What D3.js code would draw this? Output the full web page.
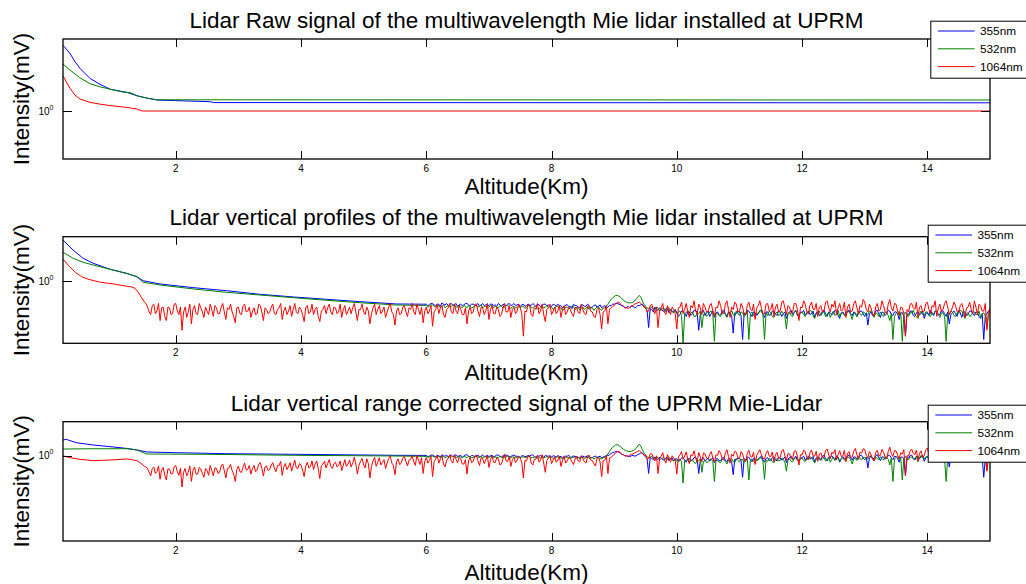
<!DOCTYPE html>
<html>
<head>
<meta charset="utf-8">
<script src="https://cdn.jsdelivr.net/npm/d3@7"></script>
<style>
  html, body { margin: 0; padding: 0; background: #fff; }
  svg { display: block; }
  text { font-family: "Liberation Sans", Arial, Helvetica, sans-serif; fill: #000; }
</style>
</head>
<body>
<svg id="chart" width="1026" height="584"></svg>
<script>
// ---------------------------------------------------------------
// Labels
// ---------------------------------------------------------------
const panelTitles = [
  "Lidar Raw signal of the multiwavelength Mie lidar installed at UPRM",
  "Lidar vertical profiles of the multiwavelength Mie lidar installed at UPRM",
  "Lidar vertical range corrected signal of the UPRM Mie-Lidar"
];
const xAxisLabel = "Altitude(Km)";
const yAxisLabel = "Intensity(mV)";
const wavelengths = ["355nm", "532nm", "1064nm"];
const altitudeTicks = [2, 4, 6, 8, 10, 12, 14];
const intensityTicks = [1];

// ---------------------------------------------------------------
// Raw signal, [altitude km, intensity mV]
// ---------------------------------------------------------------
const raw355 = [[0.2,3.53],[0.31,3.03],[0.39,2.58],[0.47,2.27],[0.63,1.87],[0.79,1.67],[0.95,1.52],[1.22,1.43],[1.38,1.34],[1.54,1.28],[1.7,1.235],[2.0,1.22],[2.55,1.195],[2.6,1.175],[15,1.17]];
const raw532 = [[0.2,2.46],[0.31,2.2],[0.47,1.89],[0.63,1.69],[0.79,1.59],[0.95,1.52],[1.15,1.44],[1.28,1.42],[1.38,1.34],[1.54,1.28],[1.7,1.24],[15,1.235]];
const raw1064 = [[0.2,1.96],[0.31,1.55],[0.39,1.36],[0.47,1.26],[0.63,1.18],[0.79,1.14],[0.95,1.11],[1.22,1.07],[1.38,1.04],[1.46,1.0],[15,1.0]];

// Range-bin width of the far-field samples, km
const binKm = 0.025;

// ---------------------------------------------------------------
// Vertical profiles: near-field samples, then range bins
// (355/532 nm bins start at 6.0 km, 1064 nm bins at 1.5 km)
// ---------------------------------------------------------------
const prof355Near = [[0.2,2.9],[0.36,2.24],[0.52,1.81],[0.68,1.59],[0.95,1.36],[1.22,1.22],[1.38,1.12],[1.48,1.01],[1.75,0.928],[2.29,0.843],[2.81,0.78],[3.34,0.711],[3.88,0.663],[4.41,0.624],[4.94,0.587],[5.53,0.553],[5.95,0.55]];
const prof532Near = [[0.2,2.11],[0.36,1.81],[0.52,1.63],[0.68,1.52],[0.95,1.36],[1.22,1.22],[1.38,1.12],[1.48,0.97],[1.75,0.904],[2.29,0.815],[2.81,0.748],[3.34,0.698],[3.88,0.651],[4.41,0.608],[4.94,0.571],[5.53,0.538],[5.95,0.532]];
const prof1064Near = [[0.2,1.77],[0.3,1.47],[0.4,1.25],[0.5,1.12],[0.6,1.05],[0.8,0.97],[1.0,0.93],[1.2,0.88],[1.3,0.86],[1.35,0.83],[1.4,0.75],[1.45,0.66]];

const prof355Bins = [
  0.55,0.53,0.54,0.56,0.56,0.54,0.53,0.55,0.55,0.52,0.57,0.55,0.54,0.56,0.53,0.55,0.56,0.53,0.54,0.56,0.52,0.54,0.55,0.53,0.54,0.56,0.56,0.54,0.53,0.55,0.55,0.53,0.54,0.56,0.52,0.54,0.56,0.53,0.54,0.55,
  0.53,0.55,0.55,0.53,0.54,0.52,0.56,0.54,0.52,0.55,0.54,0.53,0.55,0.56,0.53,0.54,0.56,0.53,0.54,0.55,0.52,0.54,0.55,0.52,0.53,0.55,0.54,0.53,0.56,0.54,0.52,0.55,0.54,0.52,0.53,0.55,0.55,0.53,0.54,0.52,
  0.52,0.55,0.54,0.52,0.55,0.53,0.53,0.50,0.51,0.54,0.54,0.52,0.52,0.49,0.55,0.53,0.53,0.51,0.50,0.54,0.54,0.52,0.52,0.55,0.53,0.50,0.51,0.53,0.54,0.51,0.52,0.54,0.50,0.52,0.53,0.50,0.51,0.53,0.53,0.55,
  0.55,0.56,0.56,0.55,0.54,0.53,0.52,0.50,0.51,0.52,0.50,0.53,0.52,0.50,0.51,0.53,0.53,0.54,0.55,0.52,0.50,0.47,0.30,0.49,0.48,0.45,0.51,0.48,0.47,0.50,0.49,0.46,0.46,0.49,0.50,0.44,0.48,0.46,0.45,0.48,
  0.44,0.40,0.42,0.46,0.46,0.43,0.40,0.45,0.45,0.41,0.43,0.47,0.47,0.44,0.28,0.42,0.44,0.47,0.41,0.44,0.46,0.40,0.43,0.46,0.39,0.44,0.45,0.41,0.42,0.46,0.47,0.43,0.40,0.45,0.44,0.41,0.26,0.44,0.43,0.46,
  0.45,0.41,0.22,0.44,0.42,0.47,0.46,0.43,0.40,0.45,0.44,0.41,0.43,0.46,0.47,0.42,0.39,0.45,0.45,0.41,0.42,0.46,0.46,0.43,0.41,0.47,0.44,0.40,0.43,0.45,0.38,0.43,0.45,0.47,0.42,0.44,0.47,0.41,0.40,0.45,
  0.44,0.47,0.41,0.44,0.46,0.42,0.43,0.46,0.39,0.44,0.45,0.41,0.42,0.46,0.47,0.43,0.40,0.45,0.44,0.42,0.43,0.47,0.46,0.41,0.38,0.44,0.45,0.42,0.42,0.46,0.47,0.43,0.41,0.45,0.44,0.40,0.43,0.46,0.46,0.43,
  0.40,0.44,0.32,0.43,0.45,0.41,0.42,0.46,0.47,0.43,0.39,0.45,0.44,0.41,0.43,0.47,0.46,0.42,0.41,0.45,0.45,0.43,0.37,0.44,0.44,0.40,0.24,0.43,0.42,0.46,0.46,0.41,0.40,0.44,0.45,0.42,0.43,0.46,0.38,0.43,
  0.44,0.41,0.47,0.43,0.41,0.46,0.45,0.42,0.42,0.47,0.46,0.43,0.40,0.45,0.33,0.42,0.44,0.46,0.43,0.40,0.47,0.44,0.39,0.45,0.45,0.41,0.42,0.46,0.46,0.43,0.41,0.45,0.44,0.40,0.38,0.43,0.22,0.41,0.43,0.46,
  0.45
];
const prof532Bins = [
  0.53,0.51,0.52,0.54,0.54,0.52,0.51,0.53,0.53,0.50,0.52,0.54,0.50,0.52,0.53,0.51,0.52,0.54,0.54,0.51,0.51,0.53,0.52,0.50,0.53,0.52,0.50,0.53,0.52,0.50,0.51,0.53,0.53,0.51,0.52,0.54,0.50,0.52,0.52,0.51,
  0.51,0.53,0.53,0.50,0.52,0.51,0.50,0.53,0.52,0.50,0.51,0.53,0.53,0.51,0.49,0.52,0.52,0.50,0.51,0.53,0.50,0.52,0.52,0.49,0.51,0.53,0.53,0.50,0.50,0.52,0.51,0.49,0.49,0.51,0.52,0.50,0.51,0.53,0.50,0.52,
  0.51,0.48,0.49,0.52,0.52,0.50,0.50,0.47,0.48,0.51,0.51,0.49,0.50,0.52,0.52,0.48,0.49,0.51,0.47,0.50,0.51,0.48,0.50,0.52,0.48,0.50,0.50,0.47,0.49,0.51,0.51,0.48,0.47,0.50,0.50,0.52,0.55,0.59,0.62,0.65,
  0.67,0.69,0.69,0.68,0.66,0.63,0.61,0.59,0.58,0.57,0.57,0.57,0.58,0.60,0.62,0.66,0.69,0.66,0.60,0.55,0.52,0.50,0.49,0.51,0.51,0.48,0.48,0.51,0.50,0.46,0.47,0.50,0.49,0.45,0.46,0.49,0.48,0.45,0.44,0.47,
  0.43,0.45,0.46,0.41,0.20,0.43,0.44,0.47,0.41,0.44,0.45,0.40,0.40,0.44,0.43,0.46,0.30,0.42,0.44,0.40,0.42,0.45,0.46,0.42,0.21,0.44,0.43,0.41,0.40,0.45,0.45,0.42,0.39,0.44,0.44,0.47,0.42,0.40,0.46,0.43,
  0.41,0.45,0.44,0.40,0.42,0.46,0.22,0.43,0.45,0.41,0.40,0.44,0.43,0.47,0.46,0.42,0.22,0.44,0.41,0.46,0.44,0.40,0.39,0.43,0.45,0.41,0.42,0.46,0.43,0.40,0.29,0.44,0.44,0.41,0.40,0.45,0.46,0.42,0.42,0.44,
  0.45,0.42,0.40,0.44,0.43,0.47,0.46,0.41,0.38,0.43,0.44,0.46,0.41,0.44,0.45,0.40,0.42,0.45,0.39,0.43,0.46,0.41,0.43,0.47,0.40,0.43,0.44,0.41,0.41,0.46,0.45,0.42,0.37,0.44,0.43,0.40,0.46,0.43,0.41,0.45,
  0.44,0.41,0.42,0.46,0.46,0.43,0.39,0.44,0.43,0.40,0.45,0.42,0.40,0.45,0.44,0.41,0.36,0.43,0.22,0.40,0.43,0.46,0.41,0.44,0.21,0.42,0.45,0.41,0.40,0.44,0.44,0.47,0.42,0.40,0.38,0.43,0.46,0.42,0.41,0.45,
  0.45,0.41,0.40,0.44,0.43,0.46,0.46,0.42,0.39,0.44,0.44,0.40,0.21,0.43,0.42,0.46,0.45,0.41,0.40,0.44,0.43,0.47,0.46,0.42,0.38,0.43,0.44,0.40,0.41,0.45,0.45,0.42,0.42,0.46,0.39,0.43,0.44,0.41,0.30,0.42,
  0.43
];
const prof1064Bins = [
  0.58,0.56,0.51,0.45,0.42,0.53,0.55,0.43,0.46,0.56,0.36,0.50,0.51,0.40,0.36,0.51,0.50,0.42,0.43,0.55,0.56,0.46,0.42,0.51,0.28,0.45,0.51,0.39,0.45,0.55,0.33,0.48,0.53,0.43,0.42,0.56,0.50,0.45,0.39,0.51,
  0.46,0.42,0.55,0.48,0.40,0.53,0.50,0.43,0.43,0.51,0.56,0.45,0.37,0.50,0.48,0.55,0.45,0.40,0.34,0.50,0.51,0.43,0.42,0.53,0.55,0.45,0.46,0.51,0.39,0.46,0.50,0.42,0.43,0.55,0.53,0.45,0.36,0.50,0.48,0.43,
  0.45,0.51,0.55,0.43,0.42,0.48,0.50,0.56,0.37,0.46,0.51,0.42,0.46,0.53,0.40,0.48,0.56,0.45,0.43,0.51,0.48,0.42,0.35,0.50,0.53,0.43,0.45,0.55,0.42,0.48,0.51,0.40,0.35,0.46,0.48,0.53,0.43,0.50,0.55,0.45,
  0.42,0.51,0.50,0.43,0.45,0.55,0.39,0.48,0.53,0.42,0.46,0.51,0.43,0.50,0.56,0.45,0.36,0.48,0.48,0.55,0.45,0.42,0.51,0.46,0.33,0.43,0.50,0.55,0.42,0.48,0.53,0.43,0.46,0.51,0.39,0.45,0.51,0.56,0.45,0.42,
  0.32,0.46,0.50,0.42,0.43,0.51,0.53,0.45,0.40,0.50,0.48,0.56,0.45,0.42,0.55,0.48,0.42,0.51,0.34,0.46,0.51,0.43,0.46,0.53,0.31,0.45,0.48,0.55,0.43,0.50,0.53,0.42,0.39,0.48,0.50,0.56,0.45,0.43,0.55,0.46,
  0.43,0.53,0.48,0.42,0.42,0.50,0.33,0.46,0.51,0.43,0.45,0.55,0.55,0.46,0.40,0.51,0.50,0.42,0.46,0.56,0.37,0.48,0.53,0.43,0.43,0.51,0.48,0.40,0.42,0.50,0.56,0.45,0.45,0.53,0.39,0.48,0.51,0.43,0.46,0.55,
  0.50,0.43,0.24,0.46,0.45,0.55,0.53,0.42,0.40,0.50,0.48,0.56,0.43,0.46,0.55,0.42,0.35,0.48,0.50,0.55,0.42,0.46,0.51,0.43,0.46,0.53,0.39,0.48,0.53,0.42,0.45,0.51,0.48,0.43,0.40,0.50,0.51,0.45,0.43,0.55,
  0.48,0.43,0.42,0.51,0.53,0.46,0.45,0.40,0.39,0.48,0.50,0.42,0.29,0.45,0.46,0.53,0.33,0.48,0.50,0.52,0.53,0.56,0.57,0.58,0.55,0.53,0.52,0.50,0.50,0.49,0.51,0.52,0.53,0.55,0.56,0.57,0.58,0.56,0.54,0.51,
  0.51,0.45,0.46,0.53,0.55,0.48,0.43,0.51,0.30,0.46,0.50,0.56,0.45,0.42,0.53,0.48,0.42,0.51,0.48,0.43,0.29,0.50,0.51,0.58,0.43,0.48,0.56,0.45,0.39,0.53,0.50,0.60,0.46,0.42,0.55,0.50,0.42,0.56,0.51,0.45,
  0.45,0.53,0.56,0.46,0.40,0.51,0.50,0.60,0.53,0.43,0.43,0.55,0.60,0.48,0.39,0.51,0.48,0.58,0.55,0.45,0.45,0.56,0.51,0.42,0.42,0.53,0.58,0.48,0.46,0.55,0.37,0.50,0.53,0.60,0.50,0.43,0.43,0.55,0.56,0.46,
  0.48,0.56,0.40,0.51,0.55,0.45,0.46,0.58,0.60,0.50,0.42,0.53,0.51,0.43,0.45,0.56,0.56,0.48,0.36,0.51,0.50,0.60,0.55,0.45,0.43,0.53,0.58,0.48,0.48,0.56,0.40,0.51,0.53,0.45,0.46,0.58,0.60,0.50,0.45,0.55,
  0.51,0.60,0.42,0.50,0.56,0.46,0.48,0.58,0.39,0.51,0.55,0.45,0.46,0.56,0.60,0.50,0.43,0.53,0.51,0.62,0.58,0.48,0.45,0.55,0.50,0.43,0.40,0.51,0.56,0.46,0.48,0.60,0.53,0.45,0.43,0.55,0.62,0.50,0.46,0.56,
  0.55,0.46,0.42,0.51,0.50,0.43,0.24,0.48,0.45,0.55,0.56,0.50,0.48,0.58,0.39,0.51,0.53,0.45,0.46,0.56,0.58,0.48,0.43,0.53,0.51,0.60,0.40,0.50,0.55,0.45,0.48,0.56,0.60,0.51,0.42,0.46,0.50,0.58,0.53,0.45,
  0.45,0.53,0.56,0.48,0.39,0.50,0.51,0.58,0.48,0.43,0.60,0.51,0.42,0.55,0.53,0.46,0.46,0.56,0.28,0.45,0.50
];

// ---------------------------------------------------------------
// Range corrected signal: near-field samples, then range bins
// ---------------------------------------------------------------
const corr355Near = [[0.2,1.53],[0.25,1.56],[0.42,1.42],[0.68,1.34],[0.95,1.28],[1.22,1.22],[1.38,1.17],[1.54,1.108],[2.0,1.087],[2.8,1.058],[3.9,1.041],[5.5,1.013],[5.95,1.01]];
const corr532Near = [[0.2,1.2],[0.68,1.21],[1.22,1.21],[1.38,1.17],[1.54,1.049],[2.5,1.041],[3.9,1.013],[5.5,0.994],[5.95,0.985]];
const corr1064Near = [[0.2,1.0],[0.31,0.95],[0.47,0.909],[0.68,0.876],[0.95,0.892],[1.22,0.917],[1.3,0.9],[1.38,0.876],[1.46,0.8]];

const corr355Bins = [
  1.01,0.98,0.99,1.02,1.02,0.99,0.98,1.01,1.00,0.97,1.03,1.00,0.99,1.02,0.97,1.00,1.02,0.98,1.00,1.03,0.98,1.00,1.01,0.97,0.99,1.02,1.03,0.99,0.97,1.01,1.00,0.98,0.99,1.02,0.96,0.99,1.02,0.98,0.99,1.01,
  0.98,1.00,1.01,0.98,0.99,1.02,1.02,0.99,0.97,1.00,0.99,1.02,1.01,0.98,0.98,1.01,1.02,0.99,0.99,0.97,0.96,1.00,1.00,0.98,0.98,1.01,0.99,1.02,1.02,0.98,0.96,0.99,0.99,1.01,0.98,0.96,1.01,0.99,0.99,1.00,
  0.97,1.00,0.99,0.96,1.01,0.98,0.98,0.95,0.95,0.99,0.99,1.01,0.97,0.94,1.00,0.98,0.98,0.96,0.94,0.99,0.99,0.97,0.97,1.00,0.98,0.95,0.95,0.98,0.99,0.96,0.97,0.99,0.94,0.97,0.98,1.01,1.00,1.03,1.06,1.09,
  1.10,1.12,1.12,1.10,1.07,1.04,1.02,1.00,1.00,0.99,0.98,1.00,1.01,0.99,1.00,1.03,1.05,1.08,1.08,1.02,0.97,0.93,0.62,0.95,0.93,0.90,0.97,0.92,0.90,0.96,0.95,0.90,0.89,0.94,0.96,0.88,0.92,0.95,0.87,0.92,
  0.92,0.86,0.88,0.94,0.95,0.89,0.84,0.92,0.93,0.87,0.89,0.95,0.96,0.90,0.62,0.88,0.91,0.95,0.86,0.91,0.94,0.87,0.90,0.95,0.83,0.91,0.93,0.87,0.88,0.94,0.96,0.89,0.85,0.92,0.92,0.86,0.60,0.91,0.90,0.94,
  0.94,0.88,0.56,0.92,0.89,0.97,0.96,0.90,0.85,0.93,0.93,0.88,0.91,0.96,0.98,0.90,0.84,0.93,0.95,0.88,0.89,0.95,0.97,0.91,0.87,0.96,0.94,0.89,0.92,0.97,0.83,0.91,0.96,0.99,0.90,0.93,0.99,0.90,0.86,0.94,
  0.95,0.99,0.89,0.94,0.99,0.92,0.93,0.98,0.85,0.94,0.97,0.91,0.91,0.99,1.01,0.93,0.87,0.96,0.96,1.00,0.94,0.89,1.00,0.95,0.84,0.93,0.98,0.92,0.92,1.00,1.02,0.95,0.89,0.97,0.97,0.92,0.95,1.01,1.01,0.94,
  0.90,0.96,0.72,0.94,0.99,0.92,0.93,1.00,1.03,0.95,0.88,0.97,0.97,0.91,0.95,1.02,1.01,0.94,0.90,0.98,0.98,0.93,0.84,0.96,0.97,0.92,0.58,0.95,0.94,1.01,1.02,0.93,0.89,0.97,0.99,0.94,0.96,1.02,0.86,0.95,
  0.98,0.93,1.04,0.97,0.91,1.01,1.00,0.95,0.94,1.02,1.03,0.96,0.90,0.99,0.74,0.95,0.98,1.03,0.95,0.92,1.04,0.98,0.88,0.96,1.00,0.94,0.93,1.01,1.02,0.95,0.91,0.99,0.97,0.93,0.86,0.97,0.56,0.94,0.96,1.01,
  1.00
];
const corr532Bins = [
  0.98,0.96,0.97,0.99,0.99,0.97,0.96,0.98,0.98,0.95,0.97,0.99,0.95,0.97,0.98,0.96,0.97,0.99,0.99,0.96,0.96,0.98,0.97,0.95,0.98,0.97,0.95,0.98,0.97,0.95,0.96,0.98,0.98,0.96,0.97,0.99,0.95,0.97,0.97,0.96,
  0.96,0.98,0.98,0.95,0.97,0.96,0.95,0.98,0.97,0.95,0.96,0.98,0.98,0.96,0.94,0.97,0.97,0.95,0.96,0.98,0.95,0.97,0.97,0.94,0.96,0.98,0.98,0.95,0.95,0.97,0.96,0.94,0.94,0.96,0.97,0.95,0.96,0.98,0.95,0.97,
  0.96,0.93,0.94,0.97,0.97,0.95,0.95,0.92,0.93,0.96,0.96,0.94,0.95,0.97,0.97,0.93,0.94,0.96,0.92,0.95,0.96,0.93,0.95,0.97,0.93,0.95,0.95,0.92,0.94,0.96,0.96,0.93,0.92,0.95,0.96,0.99,1.05,1.12,1.20,1.26,
  1.30,1.35,1.35,1.32,1.28,1.23,1.19,1.16,1.14,1.13,1.12,1.13,1.15,1.18,1.22,1.30,1.37,1.30,1.18,1.08,1.02,0.98,0.95,0.97,0.98,0.94,0.93,0.96,0.96,0.92,0.91,0.95,0.95,0.91,0.90,0.94,0.93,0.89,0.87,0.91,
  0.86,0.90,0.91,0.85,0.48,0.87,0.88,0.93,0.83,0.88,0.90,0.84,0.81,0.89,0.87,0.92,0.64,0.86,0.89,0.83,0.85,0.90,0.92,0.86,0.50,0.88,0.88,0.84,0.83,0.91,0.91,0.86,0.80,0.88,0.89,0.93,0.86,0.83,0.93,0.88,
  0.85,0.91,0.90,0.84,0.87,0.93,0.52,0.88,0.92,0.86,0.84,0.90,0.89,0.95,0.94,0.87,0.53,0.89,0.86,0.93,0.91,0.85,0.83,0.89,0.93,0.87,0.88,0.94,0.90,0.84,0.66,0.90,0.92,0.86,0.85,0.93,0.95,0.88,0.89,0.92,
  0.94,0.88,0.86,0.92,0.91,0.97,0.96,0.89,0.82,0.91,0.93,0.96,0.88,0.92,0.95,0.87,0.90,0.96,0.84,0.91,0.97,0.88,0.92,0.97,0.86,0.92,0.95,0.89,0.89,0.96,0.96,0.90,0.80,0.93,0.93,0.88,0.98,0.92,0.90,0.95,
  0.96,0.90,0.92,0.98,1.00,0.93,0.87,0.95,0.94,0.90,0.98,0.93,0.89,0.97,0.96,0.91,0.78,0.94,0.50,0.92,0.95,0.99,0.91,0.94,0.52,0.93,0.99,0.91,0.90,0.96,0.97,0.92,0.93,0.99,0.85,0.94,1.01,0.95,0.92,0.97,
  0.98,0.92,0.90,0.96,0.95,0.99,1.01,0.93,0.88,0.95,0.97,0.91,0.50,0.94,0.93,0.98,0.99,0.92,0.90,0.96,0.96,1.00,1.02,0.94,0.86,0.95,0.98,0.91,0.92,0.97,1.00,0.93,0.94,0.98,0.87,0.93,0.97,0.92,0.68,0.94,
  0.95
];
const corr1064Bins = [
  0.75,0.74,0.71,0.64,0.58,0.71,0.74,0.62,0.65,0.76,0.53,0.68,0.73,0.59,0.52,0.70,0.70,0.61,0.62,0.74,0.77,0.65,0.59,0.71,0.43,0.64,0.71,0.58,0.64,0.76,0.50,0.67,0.74,0.61,0.61,0.73,0.70,0.62,0.56,0.71,
  0.67,0.59,0.77,0.68,0.58,0.72,0.71,0.62,0.64,0.76,0.80,0.67,0.55,0.71,0.72,0.79,0.67,0.61,0.50,0.69,0.76,0.65,0.64,0.74,0.82,0.68,0.69,0.77,0.61,0.71,0.77,0.65,0.68,0.80,0.83,0.71,0.58,0.74,0.76,0.67,
  0.69,0.78,0.83,0.72,0.65,0.77,0.77,0.86,0.59,0.74,0.81,0.69,0.74,0.83,0.66,0.77,0.89,0.72,0.71,0.81,0.78,0.68,0.57,0.75,0.84,0.72,0.75,0.87,0.69,0.80,0.87,0.71,0.54,0.77,0.80,0.86,0.72,0.81,0.90,0.75,
  0.71,0.81,0.84,0.74,0.77,0.87,0.67,0.78,0.90,0.75,0.80,0.89,0.74,0.82,0.96,0.80,0.61,0.77,0.86,0.93,0.78,0.72,0.92,0.81,0.55,0.75,0.87,0.96,0.75,0.84,0.95,0.78,0.84,0.90,0.71,0.82,0.93,0.99,0.82,0.77,
  0.60,0.85,0.92,0.79,0.82,0.94,0.98,0.86,0.76,0.89,0.91,1.00,0.85,0.77,1.01,0.89,0.79,0.95,0.62,0.86,0.95,0.82,0.88,0.98,0.57,0.85,0.91,1.01,0.82,0.92,1.00,0.80,0.74,0.88,0.94,1.03,0.86,0.82,1.03,0.91,
  0.83,0.96,0.92,0.80,0.80,0.90,0.61,0.87,0.96,0.83,0.86,0.99,1.02,0.87,0.77,0.95,0.93,0.81,0.89,1.01,0.73,0.90,0.99,0.84,0.83,0.95,0.92,0.78,0.80,0.92,1.05,0.87,0.86,0.98,0.75,0.90,0.96,0.83,0.89,0.99,
  0.94,0.84,0.55,0.88,0.87,0.99,1.00,0.82,0.78,0.91,0.91,1.02,0.84,0.89,1.03,0.82,0.64,0.88,0.94,1.00,0.81,0.89,0.97,0.84,0.89,0.99,0.75,0.88,1.00,0.82,0.87,0.96,0.93,0.85,0.79,0.91,0.99,0.87,0.85,1.00,
  0.93,0.85,0.82,0.97,1.02,0.89,0.88,0.81,0.76,0.93,0.96,0.84,0.57,0.88,0.89,1.00,0.62,0.94,0.96,1.00,1.03,1.09,1.12,1.13,1.08,1.04,1.03,0.99,1.00,0.97,1.02,1.04,1.05,1.08,1.10,1.13,1.15,1.11,1.07,1.01,
  1.02,0.91,0.93,1.05,1.06,0.95,0.87,1.00,0.62,0.93,0.99,1.09,0.90,0.82,1.03,0.94,0.84,1.00,0.95,0.88,0.61,0.97,1.02,1.12,0.91,0.99,1.11,0.90,0.81,1.03,1.00,1.14,0.94,0.85,1.09,0.97,0.85,1.08,1.05,0.94,
  0.91,1.04,1.12,0.94,0.84,1.03,1.01,1.15,1.07,0.92,0.89,1.09,1.18,0.98,0.82,1.04,0.99,1.13,1.10,0.95,0.92,1.12,1.06,0.89,0.86,1.07,1.16,0.98,0.96,1.10,0.79,1.01,1.09,1.18,1.03,0.94,0.91,1.07,1.15,0.99,
  0.98,1.11,0.85,1.03,1.10,0.93,0.95,1.14,1.19,1.00,0.88,1.07,1.05,0.92,0.93,1.13,1.14,0.99,0.78,1.03,1.02,1.17,1.11,0.95,0.90,1.08,1.17,1.00,0.99,1.13,0.86,1.05,1.08,0.96,0.96,1.16,1.20,1.02,0.92,1.10,
  1.06,1.18,0.90,1.04,1.15,0.98,1.00,1.16,0.85,1.07,1.12,0.95,0.97,1.13,1.22,1.03,0.91,1.10,1.07,1.21,1.19,1.01,0.95,1.12,1.04,0.92,0.87,1.09,1.16,1.00,1.01,1.19,1.10,0.97,0.92,1.12,1.26,1.06,0.98,1.15,
  1.14,1.02,0.92,1.09,1.05,1.18,0.58,1.00,0.99,1.14,1.20,1.06,1.03,1.17,0.87,1.07,1.14,0.96,1.00,1.18,1.23,1.05,0.94,1.12,1.09,1.21,0.89,1.05,1.17,0.99,1.03,1.15,1.26,1.07,0.92,1.02,1.07,1.20,1.12,0.97,
  0.97,1.11,1.20,1.03,0.86,1.07,1.11,1.21,1.03,0.93,1.24,1.09,0.92,1.15,1.14,1.00,1.00,1.18,0.66,0.99,1.07
];

// ---------------------------------------------------------------
// Drawing
// ---------------------------------------------------------------
const lineColors = ["#0000ff", "#008000", "#ff0000"];

// near-field samples followed by evenly spaced range bins
function profile(near, binStartKm, bins) {
  return near.concat(bins.map((v, i) => [binStartKm + i * binKm, v]));
}

const panels = [
  { title: panelTitles[0], top: 39, bottom: 159, logMin: -0.4, logMax: 0.6,
    titleY: 27.7, xLabelY: 193.5, legendX: 930.3, legendY: 20.7,
    series: [raw355, raw532, raw1064] },
  { title: panelTitles[1], top: 236.7, bottom: 343.3, logMin: -0.7, logMax: 0.5,
    titleY: 225, xLabelY: 379.5, legendX: 927.7, legendY: 224.7,
    series: [profile(prof355Near, 6.0, prof355Bins),
             profile(prof532Near, 6.0, prof532Bins),
             profile(prof1064Near, 1.5, prof1064Bins)] },
  { title: panelTitles[2], top: 421.7, bottom: 541, logMin: -1, logMax: 0.4,
    titleY: 410.7, xLabelY: 579.5, legendX: 927.7, legendY: 404.7,
    series: [profile(corr355Near, 6.0, corr355Bins),
             profile(corr532Near, 6.0, corr532Bins),
             profile(corr1064Near, 1.5, corr1064Bins)] }
];

const plotLeft = 63, plotRight = 990;
const labelFont = 22.5;
const svg = d3.select("#chart");
const x = d3.scaleLinear().domain([0.2, 15]).range([plotLeft, plotRight]);

panels.forEach((p, pi) => {
  const y = d3.scaleLog()
    .domain([Math.pow(10, p.logMin), Math.pow(10, p.logMax)])
    .range([p.bottom, p.top]);
  const g = svg.append("g");

  const clipId = "clip" + pi;
  svg.append("clipPath").attr("id", clipId)
    .append("rect")
    .attr("x", plotLeft).attr("y", p.top)
    .attr("width", plotRight - plotLeft).attr("height", p.bottom - p.top);

  // data lines
  const line = d3.line().x(d => x(d[0])).y(d => y(d[1]));
  const lines = g.append("g").attr("clip-path", `url(#${clipId})`);
  p.series.forEach((s, i) => {
    lines.append("path")
      .attr("d", line(s))
      .attr("fill", "none")
      .attr("stroke", lineColors[i])
      .attr("stroke-width", 1)
      .attr("stroke-linejoin", "round");
  });

  // plot box
  g.append("rect")
    .attr("x", plotLeft).attr("y", p.top)
    .attr("width", plotRight - plotLeft).attr("height", p.bottom - p.top)
    .attr("fill", "none").attr("stroke", "#000").attr("stroke-width", 1.3);

  // x ticks (inside, top and bottom) and labels
  altitudeTicks.forEach(t => {
    const tx = Math.round(x(t)) + 0.5;
    g.append("line").attr("x1", tx).attr("x2", tx)
      .attr("y1", p.bottom).attr("y2", p.bottom - 8)
      .attr("stroke", "#000").attr("stroke-width", 1);
    g.append("line").attr("x1", tx).attr("x2", tx)
      .attr("y1", p.top).attr("y2", p.top + 8)
      .attr("stroke", "#000").attr("stroke-width", 1);
    g.append("text")
      .attr("x", x(t)).attr("y", p.bottom + 12.5)
      .attr("text-anchor", "middle")
      .attr("font-size", 10)
      .text(t);
  });

  // y ticks (inside, left and right) and labels
  intensityTicks.forEach(t => {
    const ty = Math.round(y(t)) + 0.5;
    g.append("line").attr("x1", plotLeft).attr("x2", plotLeft + 9)
      .attr("y1", ty).attr("y2", ty).attr("stroke", "#000").attr("stroke-width", 1);
    g.append("line").attr("x1", plotRight).attr("x2", plotRight - 9)
      .attr("y1", ty).attr("y2", ty).attr("stroke", "#000").attr("stroke-width", 1);
    const exp = Math.round(Math.log10(t));
    const lbl = g.append("text")
      .attr("x", 53.5).attr("y", y(t) + 3.5)
      .attr("text-anchor", "end")
      .attr("font-size", 10);
    lbl.append("tspan").text("10");
    lbl.append("tspan").attr("dy", -5).attr("font-size", 7).text(exp);
  });

  // title and axis labels
  g.append("text")
    .attr("x", (plotLeft + plotRight) / 2).attr("y", p.titleY)
    .attr("text-anchor", "middle")
    .attr("font-size", labelFont)
    .text(p.title);
  g.append("text")
    .attr("x", (plotLeft + plotRight) / 2).attr("y", p.xLabelY)
    .attr("text-anchor", "middle")
    .attr("font-size", labelFont)
    .text(xAxisLabel);
  g.append("text")
    .attr("transform", `translate(29,${(p.top + p.bottom) / 2}) rotate(-90)`)
    .attr("text-anchor", "middle")
    .attr("font-size", labelFont)
    .text(yAxisLabel);

  // legend
  const lg = g.append("g").attr("transform", `translate(${p.legendX},${p.legendY})`);
  lg.append("rect")
    .attr("x", 0.5).attr("y", 0.5).attr("width", 100).attr("height", 57)
    .attr("fill", "#fff").attr("stroke", "#000").attr("stroke-width", 1);
  wavelengths.forEach((w, i) => {
    const ly = 10.3 + 17.8 * i;
    lg.append("line")
      .attr("x1", 7.7).attr("x2", 44.3).attr("y1", ly).attr("y2", ly)
      .attr("stroke", lineColors[i]).attr("stroke-width", 1);
    lg.append("text")
      .attr("x", 49.7).attr("y", ly + 4.2)
      .attr("font-size", 11.8)
      .text(w);
  });
});
</script>
</body>
</html>
